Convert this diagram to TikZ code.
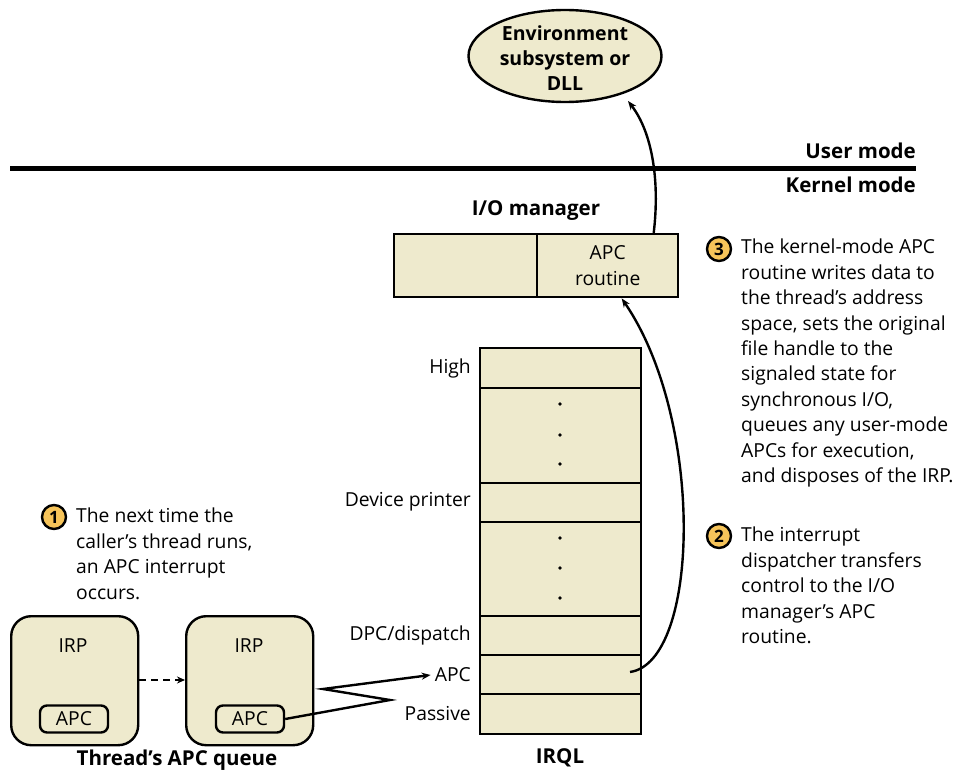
\documentclass[tikz,border=0pt]{standalone}
\usepackage{fontspec}
\setmainfont{Open Sans}
\usetikzlibrary{shapes.geometric,arrows.meta}
\definecolor{pale}{RGB}{238,234,205}
\definecolor{badge}{RGB}{246,196,90}

\tikzset{
  body/.style={font=\fontsize{19.3}{25.4}\selectfont},
  boldlabel/.style={font=\fontsize{20.5}{25}\selectfont\bfseries},
  level/.style={draw, line width=2.4pt, fill=pale, minimum width=161pt,
    inner sep=0pt, anchor=north west},
  lvlname/.style={body, anchor=east, inner sep=0pt},
  ioseg/.style={draw, line width=2.4pt, fill=pale, minimum height=63pt,
    inner sep=0pt, anchor=north west},
  irpbox/.style={draw, line width=2.4pt, fill=pale, rounded corners=20pt,
    minimum width=127pt, minimum height=129pt, inner sep=0pt, anchor=north west},
  apcbox/.style={draw, line width=2.4pt, rounded corners=7pt,
    minimum width=68pt, minimum height=27pt, inner sep=0pt, body},
  stepnum/.style={circle, draw, line width=2.4pt, fill=badge, minimum size=24pt,
    inner sep=0pt, font=\fontsize{17}{17}\selectfont\bfseries},
  callout/.style={body, align=left, anchor=north west, inner sep=0pt},
  link/.style={line width=2.4pt, -{Stealth[length=9pt,width=7pt]}},
  dot/.style={circle, fill=black, inner sep=0pt, minimum size=3.8pt}
}

\begin{document}
\begin{tikzpicture}[x=1pt,y=-1pt]
\useasboundingbox (0,0) rectangle (961,773);

% user / kernel boundary
\coordinate (bl) at (10,168);
\coordinate (br) at (916,168);
\draw[line width=5pt] (bl) -- (br);
\node[boldlabel, anchor=base east, inner sep=0pt] (um) at (916,158) {User mode};
\node[boldlabel, anchor=base east, inner sep=0pt] (km) at (916,193) {Kernel mode};

% environment subsystem
\node[ellipse, draw, line width=2.4pt, fill=pale, minimum width=193pt,
  minimum height=92pt, inner sep=0pt] (env) at (565,56) {};
\node[align=center, inner sep=0pt,
  font=\fontsize{19.5}{25}\selectfont\bfseries] (envtext) at (565,58)
  {Environment\\subsystem or\\DLL};

% I/O manager
\node[boldlabel, inner sep=0pt] (iomtitle) at (536,211) {I/O manager};
\node[ioseg, minimum width=143pt] (iomleft) at (393,233) {};
\node[ioseg, minimum width=141pt, align=center, body] (apcr) at (536,233) {APC\\routine};

% IRQL levels
\node[level, minimum height=40pt] (lhigh) at (479,347) {};
\node[level, minimum height=95pt] (lgap1) at (479,387) {};
\node[level, minimum height=39pt] (ldev)  at (479,482) {};
\node[level, minimum height=94pt] (lgap2) at (479,521) {};
\node[level, minimum height=39pt] (ldpc)  at (479,615) {};
\node[level, minimum height=39pt] (lapc)  at (479,654) {};
\node[level, minimum height=40pt] (lpas)  at (479,693) {};

\node[dot] (d1) at (560,404) {};
\node[dot] (d2) at (560,435) {};
\node[dot] (d3) at (560,464) {};
\node[dot] (d4) at (560,538) {};
\node[dot] (d5) at (560,568) {};
\node[dot] (d6) at (560,598) {};

\node[lvlname] (nhigh) at (471,368) {High};
\node[lvlname] (ndev)  at (471,502) {Device printer};
\node[lvlname] (ndpc)  at (471,635) {DPC/dispatch};
\node[lvlname] (napc)  at (471,675) {APC};
\node[lvlname] (npas)  at (471,714) {Passive};
\node[boldlabel, inner sep=0pt] (irql) at (560,758) {IRQL};

% thread's APC queue
\node[irpbox] (irp1) at (10,615) {};
\node[irpbox] (irp2) at (185,615) {};
\node[body, inner sep=0pt] (irp1t) at (73,646) {IRP};
\node[body, inner sep=0pt] (irp2t) at (249,646) {IRP};
\node[apcbox] (apc1) at (74,719) {APC};
\node[apcbox] (apc2) at (250,719) {APC};
\node[boldlabel, inner sep=0pt] (queue) at (177,760) {Thread’s APC queue};

% connectors
\draw[line width=2.4pt, dashed, dash pattern=on 7pt off 5pt,
  -{Stealth[length=8pt,width=7pt]}] (irp1.east |- 0,680) -- (irp2.west |- 0,680);

\coordinate (zz1) at (390,700);
\coordinate (zz2) at (323,689);
\draw[link] (apc2.east) -- (zz1) -- (zz2) -- ([xshift=-4pt]napc.west);

\coordinate (apcstart) at (630,672);
\draw[link] (apcstart) .. controls (700,662) and (705,420) .. ([xshift=14pt]apcr.south);
\draw[link] ([xshift=46pt]apcr.north) .. controls (660,180) and (652,132) .. (628,101);

% numbered notes
\node[stepnum] (s1) at (54,517) {1};
\node[callout] (c1) at (76,508)
  {The next time the\\caller’s thread runs,\\an APC interrupt\\occurs.};
\node[stepnum] (s3) at (719,249) {3};
\node[callout] (c3) at (741,239)
  {The kernel-mode APC\\routine writes data to\\the thread’s address\\space, sets the original\\file handle to the\\signaled state for\\synchronous I/O,\\queues any user-mode\\APCs for execution,\\and disposes of the IRP.};
\node[stepnum] (s2) at (719,536) {2};
\node[callout] (c2) at (741,527)
  {The interrupt\\dispatcher transfers\\control to the I/O\\manager’s APC\\routine.};
\end{tikzpicture}
\end{document}
